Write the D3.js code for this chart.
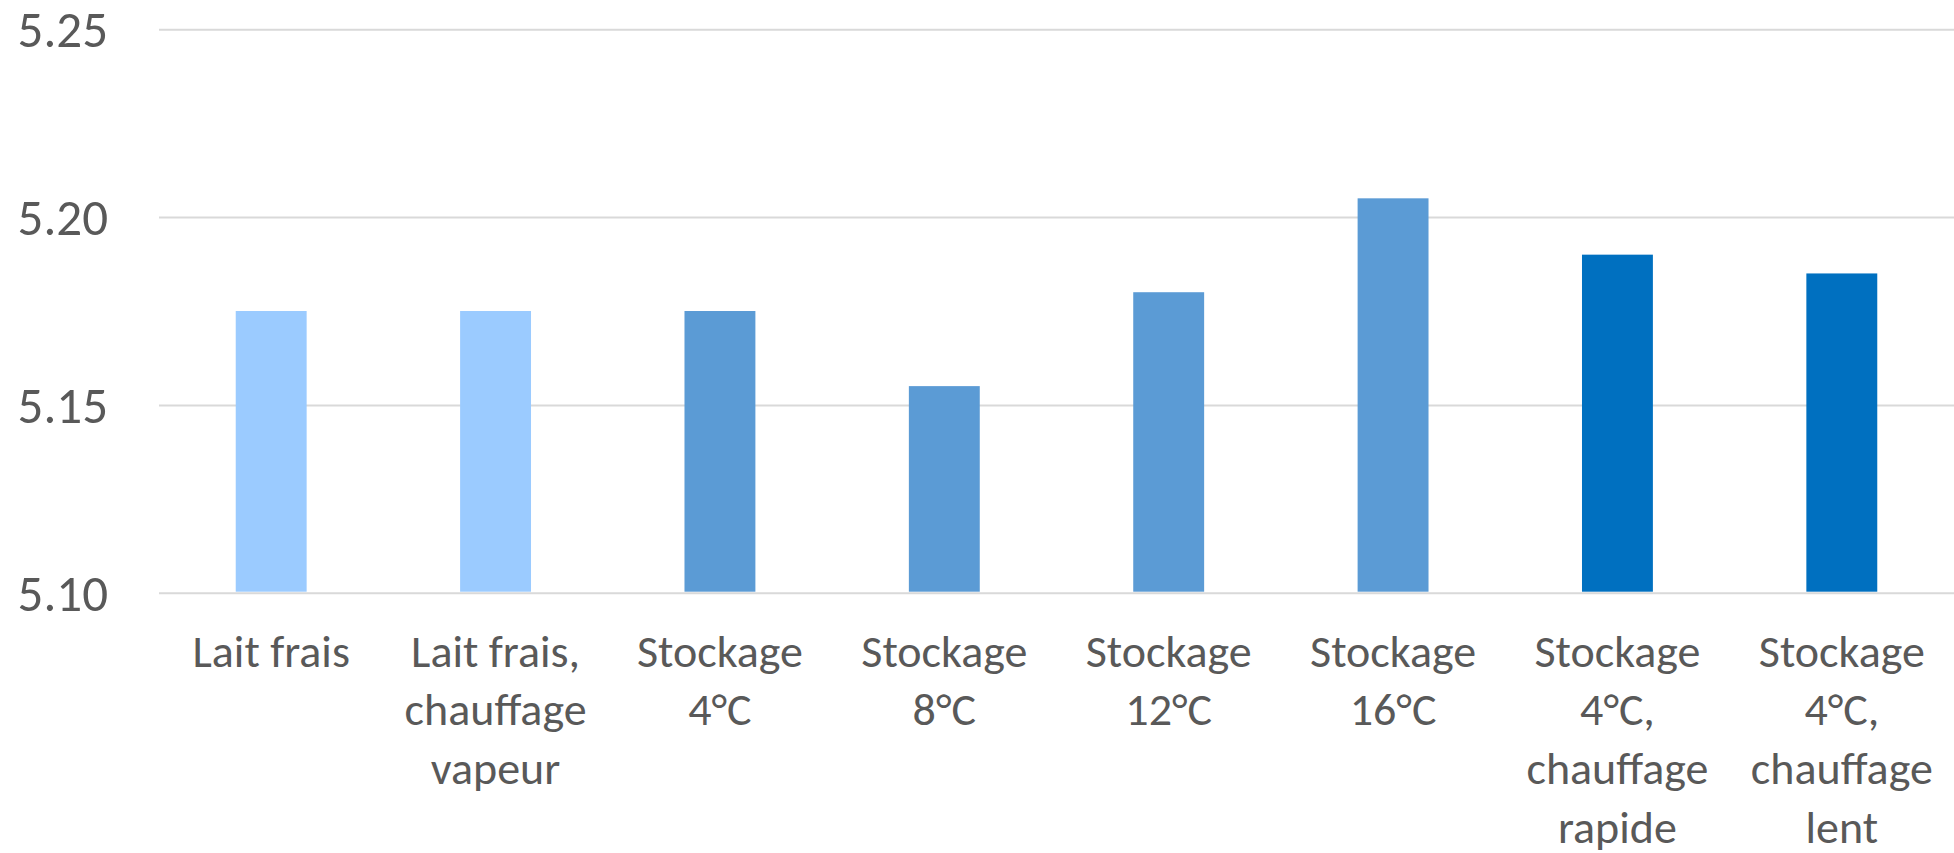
<!DOCTYPE html>
<html>
<head>
<meta charset="utf-8">
<script src="https://cdn.jsdelivr.net/npm/d3@7/dist/d3.min.js"></script>
<style>
  html, body { margin: 0; padding: 0; background: #ffffff; }
  svg { display: block; }
  text { font-family: Calibri, Carlito, Lato, sans-serif; fill: #595959; }
</style>
</head>
<body>
<script>
// pH per milk treatment
const categories = [
  "Lait frais",
  "Lait frais, chauffage vapeur",
  "Stockage 4°C",
  "Stockage 8°C",
  "Stockage 12°C",
  "Stockage 16°C",
  "Stockage 4°C, chauffage rapide",
  "Stockage 4°C, chauffage lent"
];
const labelLines = [
  ["Lait frais"],
  ["Lait frais,", "chauffage", "vapeur"],
  ["Stockage", "4°C"],
  ["Stockage", "8°C"],
  ["Stockage", "12°C"],
  ["Stockage", "16°C"],
  ["Stockage", "4°C,", "chauffage", "rapide"],
  ["Stockage", "4°C,", "chauffage", "lent"]
];
const values = [5.175, 5.175, 5.175, 5.155, 5.18, 5.205, 5.19, 5.185];
const groups = ["frais", "frais", "stockage", "stockage", "stockage", "stockage", "chauffage", "chauffage"];
const yTicks = [5.10, 5.15, 5.20, 5.25];

const groupColors = { frais: "#9BCBFF", stockage: "#5B9BD5", chauffage: "#0070C0" };

const W = 1954, H = 853;
const plotLeft = 159, plotRight = 1954;
const plotTop = 29.3, plotBottom = 592.7;

const svg = d3.select("body").append("svg")
  .attr("width", W).attr("height", H);

const x = d3.scaleBand()
  .domain(categories)
  .range([plotLeft, plotRight])
  .paddingInner(0.684)
  .paddingOuter(0.342);

const y = d3.scaleLinear()
  .domain([5.10, 5.25])
  .range([plotBottom, plotTop]);

// horizontal gridlines + value labels
const yAxis = svg.append("g")
  .attr("transform", `translate(${plotLeft},0)`)
  .call(d3.axisLeft(y)
    .tickValues(yTicks)
    .tickFormat(d3.format(".2f"))
    .tickSizeInner(-(plotRight - plotLeft))
    .tickSizeOuter(0)
    .tickPadding(51));
yAxis.select(".domain").remove();
yAxis.selectAll(".tick line")
  .attr("stroke", "#D9D9D9")
  .attr("stroke-width", 2);
yAxis.selectAll(".tick text")
  .attr("fill", "#595959")
  .style("font-size", "51px")
  .attr("dy", "0.34em");

// bars
svg.append("g")
  .selectAll("rect")
  .data(values)
  .join("rect")
  .attr("x", (d, i) => x(categories[i]))
  .attr("width", x.bandwidth())
  .attr("y", d => y(d))
  .attr("height", d => y(5.10) - y(d) - 1)
  .attr("fill", (d, i) => groupColors[groups[i]]);

// category labels, wrapped on several lines
const xAxis = svg.append("g")
  .attr("transform", `translate(0,${plotBottom})`)
  .call(d3.axisBottom(x).tickSize(0).tickFormat(() => ""));
xAxis.select(".domain").remove();
xAxis.selectAll(".tick text").remove();
xAxis.selectAll(".tick")
  .append("text")
  .attr("text-anchor", "middle")
  .attr("fill", "#595959")
  .style("font-size", "46px")
  .each(function(d) {
    const lines = labelLines[categories.indexOf(d)];
    d3.select(this).selectAll("tspan")
      .data(lines)
      .join("tspan")
      .attr("x", 0)
      .attr("y", (l, k) => 74 + k * 58.7)
      .text(l => l);
  });
</script>
</body>
</html>
